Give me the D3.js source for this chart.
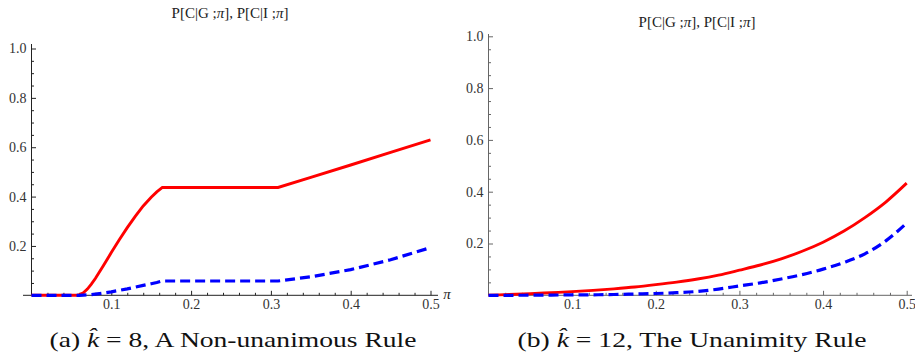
<!DOCTYPE html>
<html lang="en">
<head>
<meta charset="utf-8">
<title>P[C|G] and P[C|I]</title>
<script src="https://cdn.jsdelivr.net/npm/d3@7"></script>
<style>
body{margin:0;background:#fff;}
</style>
</head>
<body>
<script>
// panel (a): k-hat = 8
var piA   = [0, 0.03, 0.056, 0.06, 0.065, 0.07, 0.075, 0.08, 0.09, 0.1, 0.11, 0.12, 0.13, 0.14, 0.15, 0.157, 0.164, 0.2, 0.25, 0.309, 0.35, 0.4, 0.45, 0.5];
var redA  = [0, 0, 0, 0.003, 0.01, 0.025, 0.045, 0.068, 0.12, 0.173, 0.225, 0.274, 0.32, 0.362, 0.397, 0.419, 0.437, 0.437, 0.437, 0.437, 0.478, 0.528, 0.579, 0.63];
var blueA = [0, 0, 0, 0, 0.001, 0.002, 0.003, 0.005, 0.009, 0.014, 0.02, 0.026, 0.033, 0.04, 0.047, 0.052, 0.058, 0.058, 0.058, 0.058, 0.075, 0.104, 0.144, 0.193];

// panel (b): k-hat = 12
var piB   = [0, 0.025, 0.05, 0.075, 0.1, 0.125, 0.15, 0.175, 0.2, 0.225, 0.25, 0.275, 0.3, 0.325, 0.35, 0.375, 0.4, 0.425, 0.45, 0.475, 0.5];
var redB  = [0, 0.003, 0.006, 0.01, 0.014, 0.019, 0.025, 0.032, 0.041, 0.051, 0.063, 0.078, 0.097, 0.117, 0.141, 0.17, 0.205, 0.248, 0.3, 0.36, 0.433];
var blueB = [0, 0, 0.0005, 0.001, 0.0015, 0.002, 0.003, 0.005, 0.007, 0.01, 0.015, 0.024, 0.036, 0.048, 0.063, 0.08, 0.101, 0.127, 0.16, 0.21, 0.279];

var xTicks = [0.1, 0.2, 0.3, 0.4, 0.5];
var yTicks = [0.2, 0.4, 0.6, 0.8, 1.0];
var titleText = "P[C|G ;", titleMid = "], P[C|I ;", titleEnd = "]";

var w = 915, h = 361;
var svg = d3.select("body").append("svg").attr("width", w).attr("height", h);

var panels = [
  {pi: piA, red: redA, blue: blueA, x0: 31.5, x1: 430.5, y0: 295.3, y1: 48.5,
   axisLeftEnd: 23, axisRightEnd: 438, yTop: 44, axisColor: "#222", curve: d3.curveLinear,
   titleX: 230, titleY: 18, piLabel: true,
   capX: 233, capY: 347, capNum: "8", capRest: ", A Non-unanimous Rule", capPre: "(a) ", capLen: 367},
  {pi: piB, red: redB, blue: blueB, x0: 488.5, x1: 906.7, y0: 295.3, y1: 36.3,
   axisLeftEnd: 488.5, axisRightEnd: 912, yTop: 34, axisColor: "#666", curve: d3.curveMonotoneX,
   titleX: 697, titleY: 27, piLabel: false,
   capX: 692, capY: 347, capNum: "12", capRest: ", The Unanimity Rule", capPre: "(b) ", capLen: 349}
];

var serif = "'Liberation Serif', 'Times New Roman', serif";

panels.forEach(function(p){
  var x = d3.scaleLinear().domain([0, 0.5]).range([p.x0, p.x1]);
  var y = d3.scaleLinear().domain([0, 1]).range([p.y0, p.y1]);
  var g = svg.append("g");

  // axis lines
  g.append("line").attr("x1", p.axisLeftEnd).attr("x2", p.axisRightEnd)
    .attr("y1", p.y0).attr("y2", p.y0).attr("stroke", p.axisColor).attr("stroke-width", 1);
  g.append("line").attr("x1", p.x0).attr("x2", p.x0)
    .attr("y1", p.yTop).attr("y2", p.y0).attr("stroke", p.axisColor).attr("stroke-width", 1);

  // ticks pointing inward
  var xMinor = d3.range(0.02, 0.5001, 0.02).filter(function(v){ return Math.abs(v*10 - Math.round(v*10)) > 1e-6; });
  var yMinor = d3.range(0.05, 1.0001, 0.05).filter(function(v){ return Math.abs(v*5 - Math.round(v*5)) > 1e-6; });

  var xa = g.append("g").attr("transform", "translate(0," + p.y0 + ")")
    .call(d3.axisBottom(x).tickValues(xTicks).tickSize(-4.5).tickPadding(4).tickFormat(d3.format(".1f")));
  var xm = g.append("g").attr("transform", "translate(0," + p.y0 + ")")
    .call(d3.axisBottom(x).tickValues(xMinor).tickSize(-2.5).tickFormat(""));
  var ya = g.append("g").attr("transform", "translate(" + p.x0 + ",0)")
    .call(d3.axisLeft(y).tickValues(yTicks).tickSize(-4.5).tickPadding(5).tickFormat(d3.format(".1f")));
  var ym = g.append("g").attr("transform", "translate(" + p.x0 + ",0)")
    .call(d3.axisLeft(y).tickValues(yMinor).tickSize(-2.5).tickFormat(""));

  [xa, xm, ya, ym].forEach(function(a){
    a.select(".domain").remove();
    a.attr("font-family", serif).attr("font-size", 14);
    a.selectAll("line").attr("stroke", p.axisColor);
    a.selectAll("text").style("font-family", serif).style("font-size", "14px").attr("fill", "#333");
  });

  // curves
  var line = function(vals){
    return d3.line().x(function(d, i){ return x(p.pi[i]); })
      .y(function(d){ return y(d); }).curve(p.curve)(vals);
  };
  g.append("path").attr("d", line(p.red)).attr("fill", "none")
    .attr("stroke", "#ff0000").attr("stroke-width", 2.9);
  g.append("path").attr("d", line(p.blue)).attr("fill", "none")
    .attr("stroke", "#0000ff").attr("stroke-width", 3.2).attr("stroke-dasharray", "10,5");

  // title
  var t = g.append("text").attr("x", p.titleX).attr("y", p.titleY).attr("text-anchor", "middle")
    .style("font-family", serif).style("font-size", "15px").attr("fill", "#222");
  t.append("tspan").text(titleText);
  t.append("tspan").attr("font-style", "italic").text("\u03c0");
  t.append("tspan").text(titleMid);
  t.append("tspan").attr("font-style", "italic").text("\u03c0");
  t.append("tspan").text(titleEnd);

  if (p.piLabel) {
    g.append("text").attr("x", p.axisRightEnd + 9).attr("y", p.y0 + 4).attr("text-anchor", "middle")
      .style("font-family", serif).attr("font-style", "italic")
      .style("font-size", "15px").attr("fill", "#222").text("\u03c0");
  }

  // caption
  var c = g.append("text").attr("x", p.capX).attr("y", p.capY).attr("text-anchor", "middle")
    .style("font-family", serif).style("font-size", "21px").attr("fill", "#111")
    .attr("textLength", p.capLen).attr("lengthAdjust", "spacingAndGlyphs");
  c.append("tspan").text(p.capPre);
  c.append("tspan").attr("font-style", "italic").text("k\u0302");
  c.append("tspan").text(" = " + p.capNum + p.capRest);
});
</script>
</body>
</html>
